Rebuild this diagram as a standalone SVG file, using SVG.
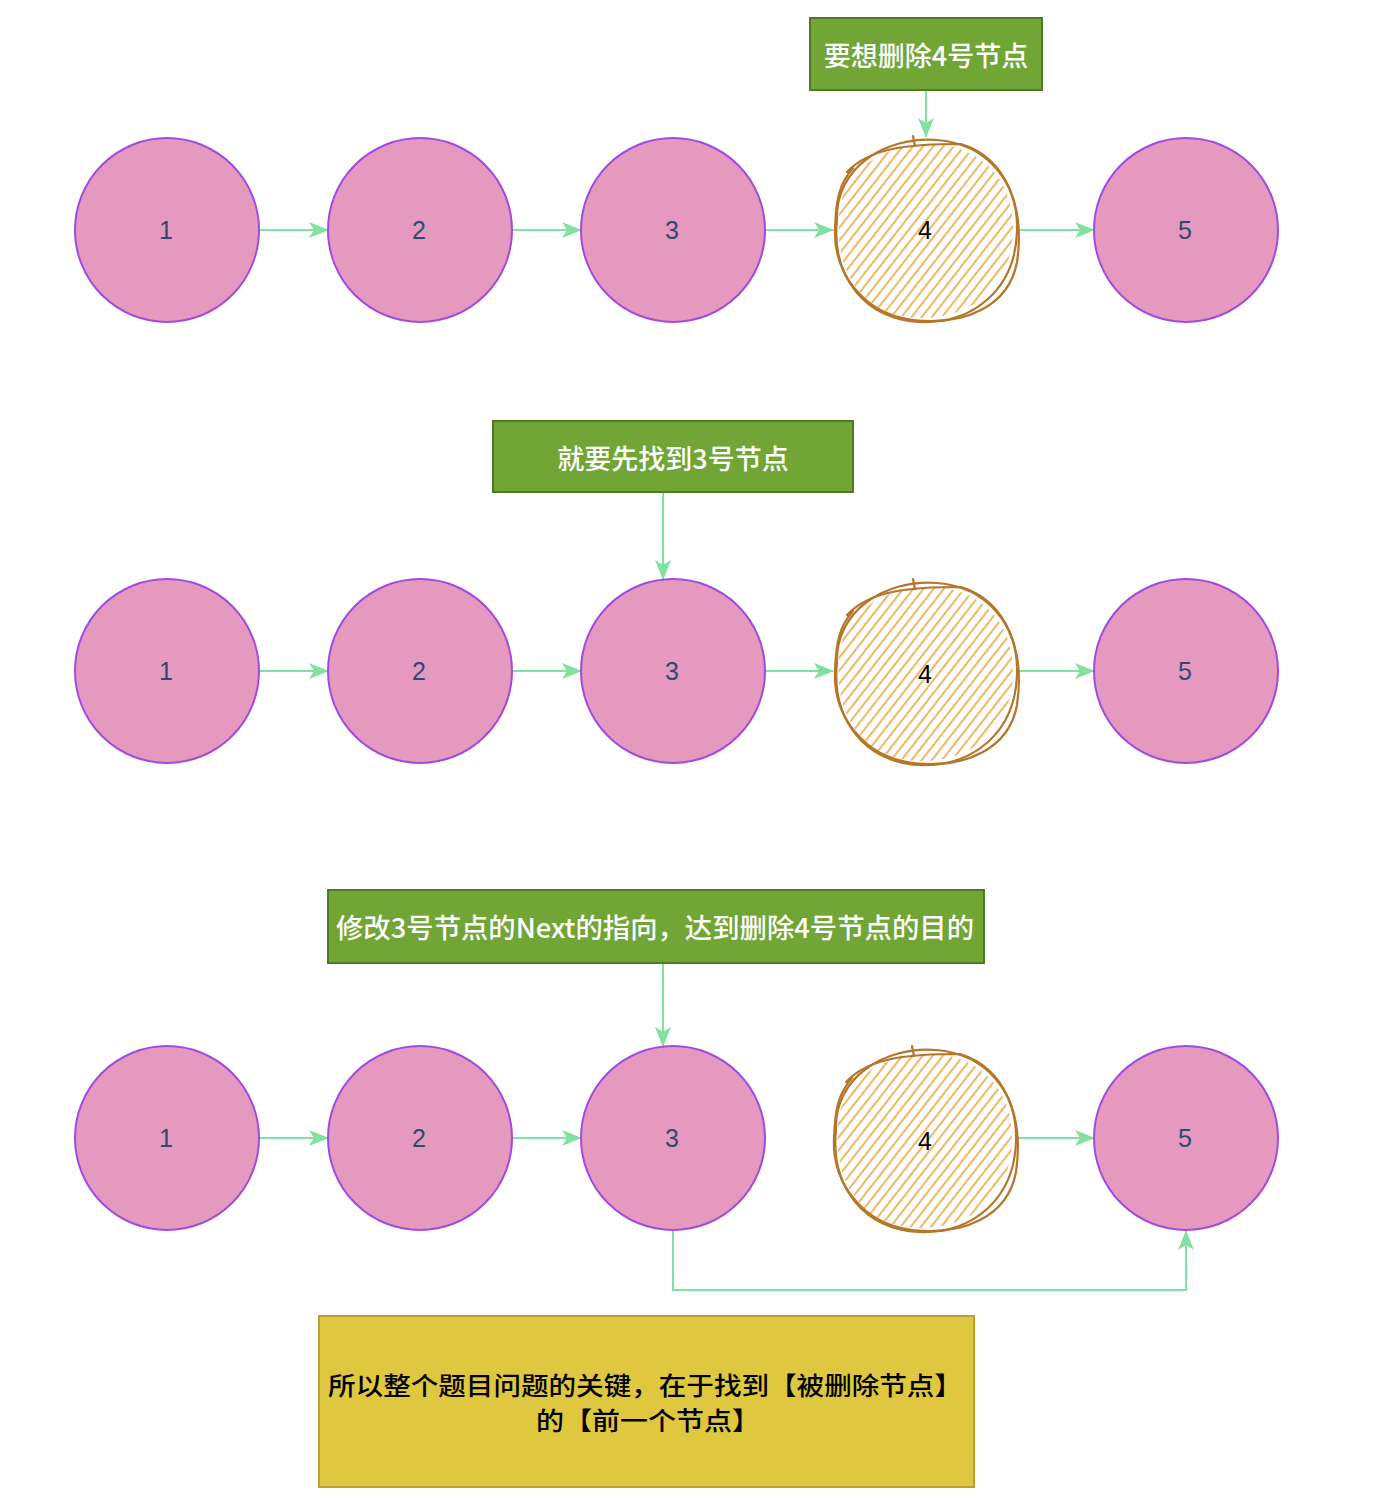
<svg xmlns="http://www.w3.org/2000/svg" width="1392" height="1504" viewBox="0 0 1392 1504">
<style>
.node{fill:#E699BF;stroke:#A04BE0;stroke-width:2}
.nt{font-family:"Liberation Sans",Arial,sans-serif;font-size:25px;fill:#2F4A6E;text-anchor:middle;dominant-baseline:central}
.nt4{font-family:"Liberation Sans",Arial,sans-serif;font-size:25px;fill:#000;text-anchor:middle;dominant-baseline:central}
.gbox{fill:#71A536;stroke:#4C7A26;stroke-width:2}
.gt{font-family:"Noto Sans CJK SC","Liberation Sans",sans-serif;font-size:27px;font-weight:500;fill:#fff;text-anchor:middle;dominant-baseline:central}
.ybox{fill:#DFC83F;stroke:#B9A135;stroke-width:2}
.yt{font-family:"Noto Sans CJK SC","Liberation Sans",sans-serif;font-size:25px;font-weight:500;fill:#000;text-anchor:middle;dominant-baseline:central}
.edge{fill:none;stroke:#82E0A0;stroke-width:2;marker-end:url(#arr)}
.sk{fill:none;stroke:#B5762A;stroke-width:2.2;stroke-linecap:round}
</style>
<defs>
<marker id="arr" viewBox="0 0 20 16" refX="19" refY="8" markerWidth="20" markerHeight="16" markerUnits="userSpaceOnUse" orient="auto">
<path d="M0,0 L20,8 L0,16 L5,8 Z" fill="#82E0A0"/>
</marker>
<pattern id="hatch" patternUnits="userSpaceOnUse" width="8" height="8" patternTransform="rotate(38)">
<line x1="3" y1="-1" x2="3" y2="9" stroke="#EBA030" stroke-width="1.5"/>
</pattern>
<g id="sketch">
<path d="M-86,-8 C-88,-58 -40,-88 8,-86 C58,-84 90,-48 88,2 C86,56 48,88 -4,88 C-56,88 -90,48 -86,-8 Z" fill="url(#hatch)" stroke="none"/>
<path class="sk" d="M-88,-10 C-90,-62 -40,-94 12,-90 C62,-86 94,-48 92,2 C90,58 50,94 -6,92 C-58,90 -94,48 -88,-10"/>
<path class="sk" d="M-78,-58 C-54,-84 -10,-86 36,-86 C82,-72 100,-22 92,32 C84,76 40,96 -12,90 C-62,84 -92,42 -90,-2 C-89,-30 -86,-46 -72,-62"/>
<path class="sk" d="M-12,-94 L-10,-84"/>
</g>
</defs>

<g id="edges">
<path class="edge" d="M259,230 L328,230"/>
<path class="edge" d="M512,230 L581,230"/>
<path class="edge" d="M765,230 L833,230"/>
<path class="edge" d="M1017,230 L1094,230"/>
<path class="edge" d="M926,90 L926,137"/>
<path class="edge" d="M259,671 L328,671"/>
<path class="edge" d="M512,671 L581,671"/>
<path class="edge" d="M765,671 L833,671"/>
<path class="edge" d="M1017,671 L1094,671"/>
<path class="edge" d="M663,492 L663,579"/>
<path class="edge" d="M259,1138 L328,1138"/>
<path class="edge" d="M512,1138 L581,1138"/>
<path class="edge" d="M1017,1138 L1094,1138"/>
<path class="edge" d="M663,963 L663,1046"/>
<path class="edge" d="M673,1230 L673,1290 L1186,1290 L1186,1231"/>
</g>

<g id="r1n1"><circle class="node" cx="167" cy="230" r="92"/><text class="nt" x="166" y="230">1</text></g>
<g id="r1n2"><circle class="node" cx="420" cy="230" r="92"/><text class="nt" x="419" y="230">2</text></g>
<g id="r1n3"><circle class="node" cx="673" cy="230" r="92"/><text class="nt" x="672" y="230">3</text></g>
<g id="r1n4"><use href="#sketch" x="925" y="230"/><text class="nt4" x="925" y="230">4</text></g>
<g id="r1n5"><circle class="node" cx="1186" cy="230" r="92"/><text class="nt" x="1185" y="230">5</text></g>
<g id="box1"><rect class="gbox" x="810" y="18" width="232" height="72"/><text class="gt" x="926" y="54">要想删除4号节点</text></g>

<g id="r2n1"><circle class="node" cx="167" cy="671" r="92"/><text class="nt" x="166" y="671">1</text></g>
<g id="r2n2"><circle class="node" cx="420" cy="671" r="92"/><text class="nt" x="419" y="671">2</text></g>
<g id="r2n3"><circle class="node" cx="673" cy="671" r="92"/><text class="nt" x="672" y="671">3</text></g>
<g id="r2n4"><use href="#sketch" x="925" y="673"/><text class="nt4" x="925" y="674">4</text></g>
<g id="r2n5"><circle class="node" cx="1186" cy="671" r="92"/><text class="nt" x="1185" y="671">5</text></g>
<g id="box2"><rect class="gbox" x="493" y="421" width="360" height="71"/><text class="gt" x="673" y="457">就要先找到3号节点</text></g>

<g id="r3n1"><circle class="node" cx="167" cy="1138" r="92"/><text class="nt" x="166" y="1138">1</text></g>
<g id="r3n2"><circle class="node" cx="420" cy="1138" r="92"/><text class="nt" x="419" y="1138">2</text></g>
<g id="r3n3"><circle class="node" cx="673" cy="1138" r="92"/><text class="nt" x="672" y="1138">3</text></g>
<g id="r3n4"><use href="#sketch" x="924" y="1140"/><text class="nt4" x="925" y="1141">4</text></g>
<g id="r3n5"><circle class="node" cx="1186" cy="1138" r="92"/><text class="nt" x="1185" y="1138">5</text></g>
<g id="box3"><rect class="gbox" x="328" y="890" width="656" height="73"/><text class="gt" x="655" y="926" textLength="638" lengthAdjust="spacingAndGlyphs">修改3号节点的Next的指向，达到删除4号节点的目的</text></g>

<g id="note"><rect class="ybox" x="319" y="1316" width="655" height="171"/>
<text class="yt" x="645" y="1384" textLength="634" lengthAdjust="spacingAndGlyphs">所以整个题目问题的关键，在于找到【被删除节点】</text>
<text class="yt" x="648" y="1419" textLength="224" lengthAdjust="spacingAndGlyphs">的【前一个节点】</text></g>
</svg>
